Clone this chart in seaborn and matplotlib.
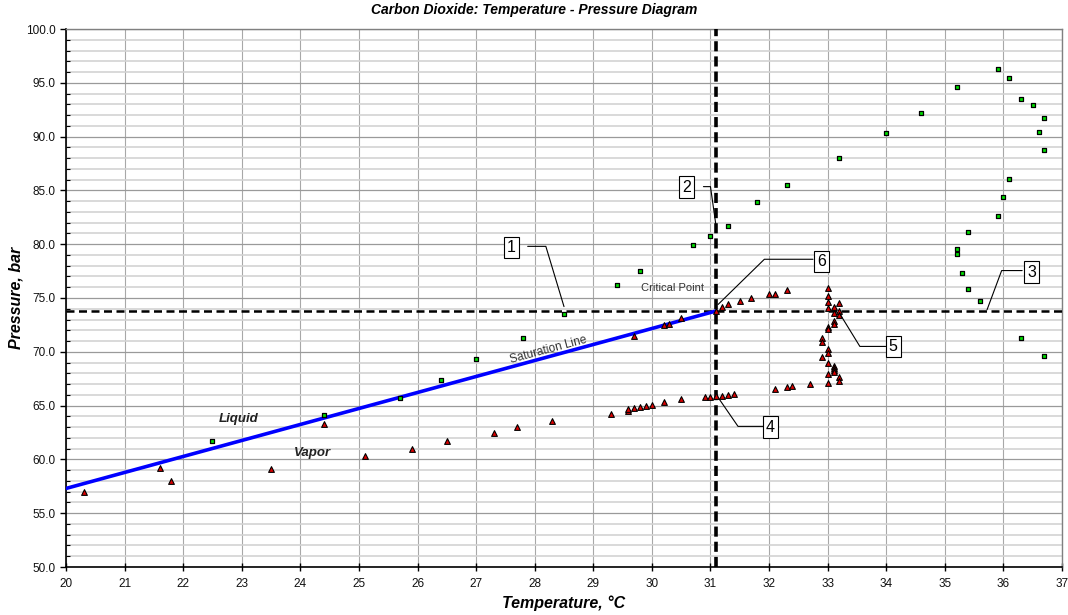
import matplotlib
matplotlib.use("Agg")
import matplotlib.pyplot as plt
from matplotlib.ticker import MultipleLocator, FormatStrFormatter
import seaborn as sns

# --- dati ---
# quadratini verdi
sq_temp = [22.5, 24.4, 25.7, 26.4, 27.0, 27.8, 28.5, 29.4, 29.8, 30.7, 31.0, 31.3,
           31.8, 32.3, 33.2, 34.0, 34.6, 35.2, 35.9, 36.1, 36.3, 36.5, 36.7, 36.6,
           36.7, 36.1, 36.0, 35.9, 35.4, 35.2, 35.2, 35.3, 35.4, 35.6, 36.3, 36.7]
sq_pres = [61.7, 64.1, 65.7, 67.4, 69.3, 71.3, 73.5, 76.2, 77.5, 79.9, 80.8, 81.7,
           83.9, 85.5, 88.0, 90.3, 92.2, 94.6, 96.3, 95.4, 93.5, 92.9, 91.7, 90.4,
           88.8, 86.1, 84.4, 82.6, 81.1, 79.6, 79.1, 77.3, 75.8, 74.7, 71.3, 69.6]

# triangoli rossi
tri_temp = [20.3, 21.6, 21.8, 23.5, 24.4, 25.1, 25.9, 26.5, 27.3, 27.7, 28.3, 29.3,
            29.6, 29.6, 29.7, 29.8, 29.9, 30.0, 30.2, 30.5, 30.9, 31.0, 31.1, 31.2,
            31.3, 31.4,
            29.7, 30.2, 30.3, 30.5, 31.1, 31.2, 31.3, 31.5, 31.7, 32.0, 32.1, 32.3,
            33.0, 33.0, 33.0, 33.0, 33.2, 33.1, 33.1, 33.2, 33.2, 33.1, 33.1, 33.0,
            33.0, 32.9, 32.9, 33.0, 33.0, 32.9, 33.0, 33.1, 33.1, 33.1, 33.1, 33.0,
            33.2, 33.2, 33.0, 32.1, 32.3, 32.4, 32.7]
tri_pres = [57.0, 59.2, 58.0, 59.1, 63.3, 60.3, 61.0, 61.7, 62.5, 63.0, 63.6, 64.2,
            64.5, 64.7, 64.8, 64.9, 65.0, 65.1, 65.3, 65.6, 65.8, 65.8, 65.9, 65.9,
            66.0, 66.1,
            71.5, 72.5, 72.6, 73.1, 73.8, 74.2, 74.4, 74.7, 75.0, 75.4, 75.4, 75.7,
            75.9, 75.2, 74.6, 74.1, 74.5, 74.2, 73.6, 73.8, 73.4, 72.9, 72.6, 72.3,
            72.1, 71.3, 70.9, 70.3, 69.9, 69.5, 69.0, 68.7, 68.5, 68.3, 68.1, 67.9,
            67.7, 67.3, 67.1, 66.5, 66.7, 66.8, 67.0]

# linea di saturazione e punto critico
sat_temp = [20.0, 31.1]
sat_pres = [57.3, 73.8]
crit_temp = 31.1
crit_pres = 73.8

# etichette numerate: testo, posizione box, punti della linea guida
callouts = [
    ("1", (27.60, 79.7), [(27.88, 79.8), (28.19, 79.8), (28.50, 74.2)]),
    ("2", (30.59, 85.3), [(30.88, 85.35), (31.00, 85.35), (31.10, 81.5)]),
    ("3", (36.48, 77.4), [(36.32, 77.55), (35.97, 77.55), (35.72, 73.9)]),
    ("4", (32.02, 63.0), [(31.90, 63.07), (31.47, 63.07), (31.15, 65.6)]),
    ("5", (34.12, 70.5), [(33.99, 70.5), (33.55, 70.5), (33.20, 73.6)]),
    ("6", (32.90, 78.4), [(32.75, 78.6), (31.92, 78.6), (31.13, 74.4)]),
]

sns.set_style("white")
plt.rcParams['font.family'] = ['Liberation Sans', 'DejaVu Sans']
plt.rcParams['text.color'] = 'black'
plt.rcParams['axes.labelcolor'] = 'black'
plt.rcParams['xtick.labelcolor'] = '#111111'
plt.rcParams['ytick.labelcolor'] = '#111111'

fig = plt.figure(figsize=(10.68, 6.15), dpi=100)
ax = fig.add_axes([66 / 1068, 1 - 567 / 615, (1062 - 66) / 1068, (567 - 29) / 615])

# griglia
ax.set_xlim(20, 37)
ax.set_ylim(50, 100)
ax.xaxis.set_major_locator(MultipleLocator(1))
ax.yaxis.set_major_locator(MultipleLocator(5))
ax.yaxis.set_minor_locator(MultipleLocator(1))
ax.yaxis.set_major_formatter(FormatStrFormatter('%.1f'))
ax.grid(which='minor', axis='y', color='#d3d3d3', linewidth=1.2, zorder=0)
ax.grid(which='major', axis='y', color='#9a9a9a', linewidth=0.9, zorder=0)
ax.grid(which='major', axis='x', color='#a8a8a8', linewidth=0.8, zorder=0)
ax.set_axisbelow(True)

# linee tratteggiate del punto critico
ax.axhline(crit_pres, color='black', linewidth=1.8, dashes=(3.2, 1.8), zorder=3)
ax.axvline(crit_temp, color='black', linewidth=2.6, dashes=(2.8, 1.4), zorder=3)

# linea di saturazione
sns.lineplot(x=sat_temp, y=sat_pres, color='#0000ff', linewidth=2.6, ax=ax, zorder=4)

# punti
sns.scatterplot(x=sq_temp, y=sq_pres, marker='s', s=9, color='#00e000',
                edgecolor='black', linewidth=0.9, ax=ax, zorder=5)
sns.scatterplot(x=tri_temp, y=tri_pres, marker='^', s=17, color='#e00000',
                edgecolor='black', linewidth=0.8, ax=ax, zorder=5)

# testi
ax.text(30.36, 75.9, "Critical Point", fontsize=8, color='#333333',
        ha='center', va='center', zorder=6)
ax.text(28.23, 70.2, "Saturation Line", fontsize=8.5, color='#333333',
        ha='center', va='center', rotation=15, zorder=6)
ax.text(22.95, 63.75, "Liquid", fontsize=9.5, fontweight='bold', fontstyle='italic',
        color='#222222', ha='center', va='center', zorder=6)
ax.text(24.2, 60.6, "Vapor", fontsize=9.5, fontweight='bold', fontstyle='italic',
        color='#222222', ha='center', va='center', zorder=6)

for label, (bx, by), pts in callouts:
    ax.plot([p[0] for p in pts], [p[1] for p in pts], color='black',
            linewidth=0.8, zorder=6)
    ax.text(bx, by, label, fontsize=11.5, ha='center', va='center', zorder=7,
            bbox=dict(boxstyle='square,pad=0.2', fc='white', ec='black', lw=0.8))

# assi
for side in ['left', 'bottom']:
    ax.spines[side].set_color('black')
    ax.spines[side].set_linewidth(1.2)
for side in ['top', 'right']:
    ax.spines[side].set_color('#808080')
    ax.spines[side].set_linewidth(1.0)

ax.tick_params(axis='y', which='major', direction='out', length=4, width=1,
               labelsize=8.5, left=True, color='black')
ax.tick_params(axis='y', which='minor', direction='in', length=3, width=0.8,
               left=True, color='black')
ax.tick_params(axis='x', which='major', direction='inout', length=6, width=1,
               labelsize=8.5, bottom=True, color='black', pad=5)

ax.set_xlabel("Temperature, °C", fontsize=11.5, fontweight='bold',
              fontstyle='italic', labelpad=4)
ax.set_ylabel("Pressure, bar", fontsize=11.5, fontweight='bold',
              fontstyle='italic', labelpad=2)
fig.suptitle("Carbon Dioxide: Temperature - Pressure Diagram", fontsize=10,
             fontweight='bold', fontstyle='italic', y=1 - 10 / 615, va='center')

fig.savefig("out.png", dpi=100)
